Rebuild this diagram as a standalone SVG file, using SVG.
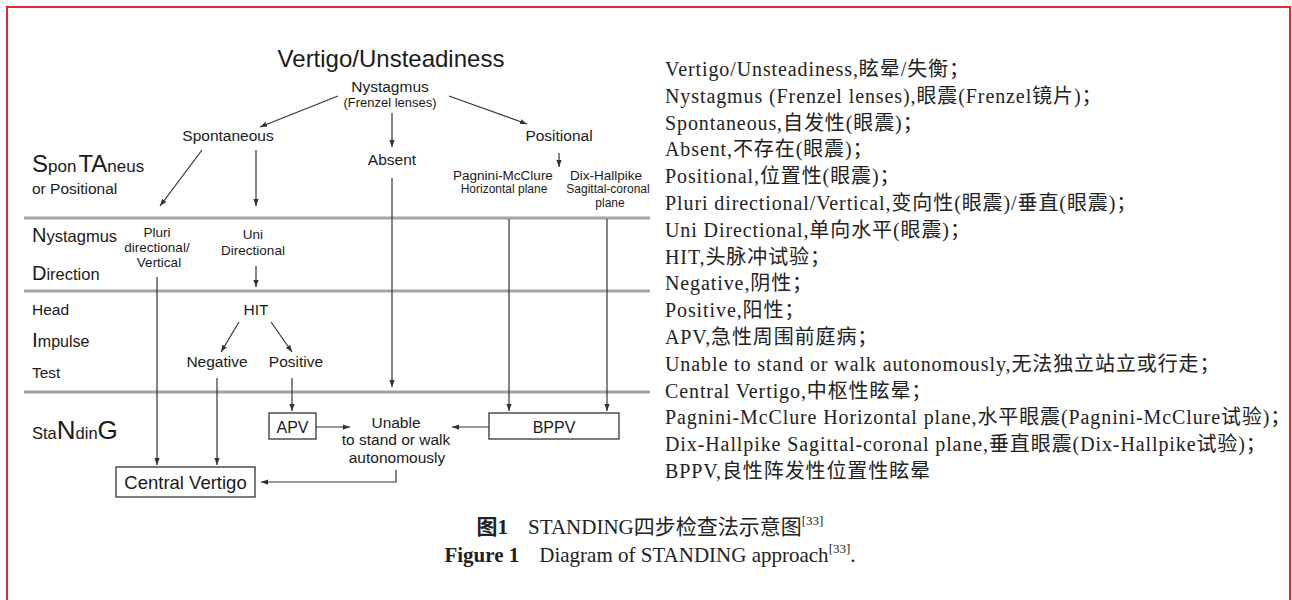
<svg xmlns="http://www.w3.org/2000/svg" width="1292" height="600" viewBox="0 0 1292 600">
<defs>
<style>
.d{font-family:"Liberation Sans",Arial,sans-serif;fill:#1a1a1a}
.m{text-anchor:middle}
.r{font-family:"Liberation Serif","Noto Sans CJK SC",serif;font-size:20px;fill:#222;letter-spacing:0.9px}
.cap{font-family:"Liberation Serif","Noto Sans CJK SC",serif;font-size:21px;fill:#222;text-anchor:middle}
.sep{stroke:#a3a3a3;stroke-width:3}
.c{stroke:#333;stroke-width:1.2;fill:none;marker-end:url(#ah)}
.box{fill:#fff;stroke:#333;stroke-width:1.3}
</style>
<marker id="ah" viewBox="0 0 8 8" refX="8" refY="4" markerWidth="7" markerHeight="7" markerUnits="userSpaceOnUse" orient="auto">
<path d="M0,1 L8,4 L0,7 z" fill="#333"/>
</marker>
</defs>
<rect x="0" y="0" width="1292" height="600" fill="#fff"/>
<rect x="7" y="7" width="1283" height="640" fill="none" stroke="#e8242c" stroke-width="2"/>

<g id="separators">
<line class="sep" x1="24" y1="218" x2="650" y2="218"/>
<line class="sep" x1="24" y1="291" x2="650" y2="291"/>
<line class="sep" x1="24" y1="392" x2="650" y2="392"/>
</g>

<g id="row-labels" class="d">
<text x="32" y="172"><tspan font-size="24">S</tspan><tspan font-size="17">pon</tspan><tspan font-size="24" dx="2">TA</tspan><tspan font-size="17">neus</tspan></text>
<text x="32" y="194" font-size="15.5">or Positional</text>
<text x="32" y="242"><tspan font-size="20">N</tspan><tspan font-size="16.5">ystagmus</tspan></text>
<text x="32" y="280"><tspan font-size="20">D</tspan><tspan font-size="16.5">irection</tspan></text>
<text x="32" y="315" font-size="15.5">Head</text>
<text x="32" y="347"><tspan font-size="21">I</tspan><tspan font-size="16">mpulse</tspan></text>
<text x="32" y="378" font-size="15.5">Test</text>
<text x="32" y="439"><tspan font-size="16.5">Sta</tspan><tspan font-size="26">N</tspan><tspan font-size="16.5">din</tspan><tspan font-size="26">G</tspan></text>
</g>

<g id="connectors">
<line class="c" x1="338" y1="96" x2="260" y2="127"/>
<line class="c" x1="449" y1="96" x2="527" y2="124"/>
<line class="c" x1="392" y1="113" x2="392" y2="147"/>
<line class="c" x1="559" y1="153" x2="559" y2="167"/>
<line class="c" x1="202" y1="150" x2="160" y2="206"/>
<line class="c" x1="256" y1="150" x2="256" y2="206"/>
<line class="c" x1="392" y1="178" x2="392" y2="387"/>
<line class="c" x1="157" y1="277" x2="157" y2="465"/>
<line class="c" x1="256" y1="266" x2="256" y2="287"/>
<line class="c" x1="239" y1="322" x2="221" y2="352"/>
<line class="c" x1="271" y1="322" x2="292" y2="352"/>
<line class="c" x1="217" y1="378" x2="217" y2="465"/>
<line class="c" x1="292" y1="378" x2="292" y2="411"/>
<line class="c" x1="509" y1="219" x2="509" y2="411"/>
<line class="c" x1="607" y1="219" x2="607" y2="411"/>
<line class="c" x1="316" y1="427" x2="350" y2="427"/>
<line class="c" x1="489" y1="427" x2="452" y2="427"/>
<path class="c" d="M396,470 V482 H261"/>
</g>

<g id="title"><text class="d m" x="391" y="67" font-size="24">Vertigo/Unsteadiness</text></g>
<g id="nystagmus"><text class="d m" x="390" y="92" font-size="15.5">Nystagmus</text><text class="d m" x="390" y="107" font-size="13">(Frenzel lenses)</text></g>
<g id="spontaneous"><text class="d m" x="228" y="141" font-size="15.5">Spontaneous</text></g>
<g id="positional"><text class="d m" x="559" y="141" font-size="15.5">Positional</text></g>
<g id="absent"><text class="d m" x="392" y="165" font-size="15.5">Absent</text></g>
<g id="pagnini"><text class="d m" x="503" y="180" font-size="13.5">Pagnini-McClure</text><text class="d m" x="504" y="193" font-size="12">Horizontal plane</text></g>
<g id="dixhallpike"><text class="d m" x="606" y="180" font-size="13.5">Dix-Hallpike</text><text class="d m" x="608" y="193" font-size="12">Sagittal-coronal</text><text class="d m" x="610" y="207" font-size="12">plane</text></g>
<g id="pluri"><text class="d m" x="157" y="237" font-size="13.5">Pluri</text><text class="d m" x="157" y="252" font-size="13.5">directional/</text><text class="d m" x="159" y="267" font-size="13.5">Vertical</text></g>
<g id="uni"><text class="d m" x="253" y="239" font-size="13.5">Uni</text><text class="d m" x="253" y="255" font-size="13.5">Directional</text></g>
<g id="hit"><text class="d m" x="256" y="315" font-size="15.5">HIT</text></g>
<g id="negative"><text class="d m" x="217" y="367" font-size="15.5">Negative</text></g>
<g id="positive"><text class="d m" x="296" y="367" font-size="15.5">Positive</text></g>
<g id="apv"><rect class="box" x="269" y="413" width="47" height="26"/><text class="d m" x="292.5" y="433" font-size="16">APV</text></g>
<g id="unable"><text class="d m" x="396" y="428" font-size="15.5">Unable</text><text class="d m" x="396" y="445" font-size="15.5">to stand or walk</text><text class="d m" x="397" y="463" font-size="15.5">autonomously</text></g>
<g id="bppv"><rect class="box" x="489" y="413" width="130" height="26"/><text class="d m" x="554" y="433" font-size="16">BPPV</text></g>
<g id="central"><rect class="box" x="116" y="467" width="139" height="30"/><text class="d m" x="185.5" y="489" font-size="18.5">Central Vertigo</text></g>

<g id="legend" class="r">
<text x="665" y="76">Vertigo/Unsteadiness,眩晕/失衡；</text>
<text x="665" y="102.8">Nystagmus (Frenzel lenses),眼震(Frenzel镜片)；</text>
<text x="665" y="129.6">Spontaneous,自发性(眼震)；</text>
<text x="665" y="156.4">Absent,不存在(眼震)；</text>
<text x="665" y="183.2">Positional,位置性(眼震)；</text>
<text x="665" y="210">Pluri directional/Vertical,变向性(眼震)/垂直(眼震)；</text>
<text x="665" y="236.8">Uni Directional,单向水平(眼震)；</text>
<text x="665" y="263.6">HIT,头脉冲试验；</text>
<text x="665" y="290.4">Negative,阴性；</text>
<text x="665" y="317.2">Positive,阳性；</text>
<text x="665" y="344">APV,急性周围前庭病；</text>
<text x="665" y="370.8">Unable to stand or walk autonomously,无法独立站立或行走；</text>
<text x="665" y="397.6">Central Vertigo,中枢性眩晕；</text>
<text x="665" y="424.4">Pagnini-McClure Horizontal plane,水平眼震(Pagnini-McClure试验)；</text>
<text x="665" y="451.2">Dix-Hallpike Sagittal-coronal plane,垂直眼震(Dix-Hallpike试验)；</text>
<text x="665" y="478">BPPV,良性阵发性位置性眩晕</text>
</g>

<g id="caption">
<text class="cap" x="650" y="534"><tspan font-weight="bold">图1</tspan><tspan dx="20">STANDING四步检查法示意图</tspan><tspan font-size="13" dy="-9">[33]</tspan></text>
<text class="cap" x="650" y="562"><tspan font-weight="bold">Figure 1</tspan><tspan dx="20">Diagram of STANDING approach</tspan><tspan font-size="13" dy="-9">[33]</tspan><tspan dy="9">.</tspan></text>
</g>
</svg>
